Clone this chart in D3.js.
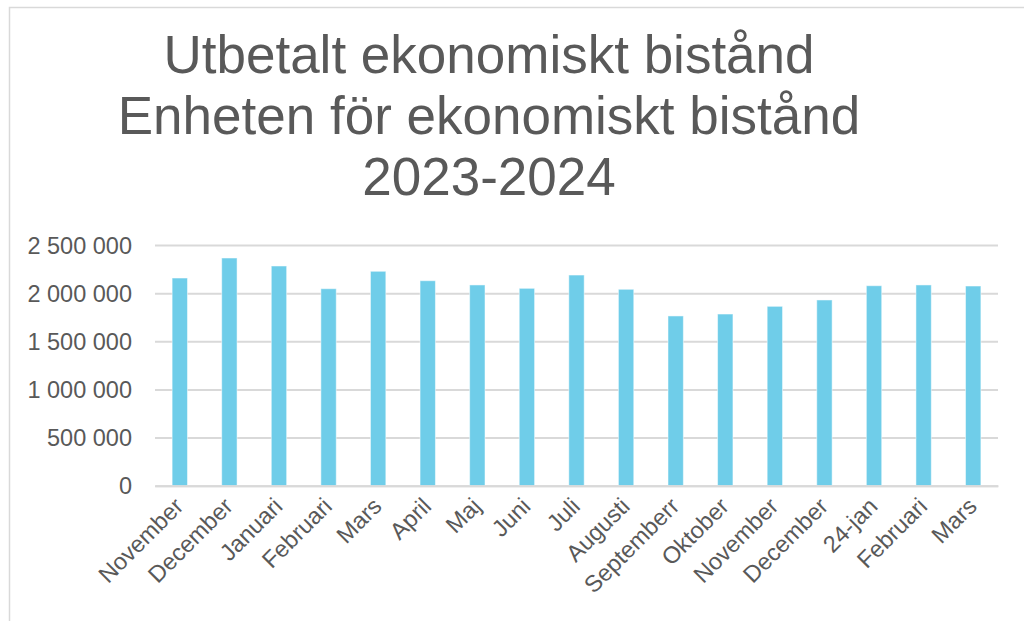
<!DOCTYPE html>
<html>
<head>
<meta charset="utf-8">
<script src="https://cdn.jsdelivr.net/npm/d3@7"></script>
<style>
  body { margin: 0; background: #fff; }
  svg { display: block; font-family: "Liberation Sans", Arial, sans-serif; }
</style>
</head>
<body>
<svg id="chart" width="1024" height="621"></svg>
<script>
"use strict"

// Data
var titleLines = ["Utbetalt ekonomiskt bistånd", "Enheten för ekonomiskt bistånd", "2023-2024"];
var months = ["November", "December", "Januari", "Februari", "Mars", "April", "Maj", "Juni", "Juli",
  "Augusti", "Septemberr", "Oktober", "November", "December", "24-jan", "Februari", "Mars"];
var amounts = [2157000, 2365000, 2282000, 2046000, 2227000, 2129000, 2085000, 2050000, 2188000,
  2040000, 1763000, 1783000, 1863000, 1929000, 2077000, 2085000, 2074000];
var yTicks = [0, 500000, 1000000, 1500000, 2000000, 2500000];

var textColor = "#595959";
var gridColor = "#d9d9d9";
var barColor = "#6fcde9";

var svg = d3.select("#chart");
var margin = { top: 245, right: 26, bottom: 135, left: 155 };
var width = 1024 - margin.left - margin.right;
var height = 621 - margin.top - margin.bottom - 0.3;

// outer chart frame
svg.append("rect")
  .attr("x", 9.5).attr("y", 7.5)
  .attr("width", 1030).attr("height", 630)
  .attr("fill", "none")
  .attr("stroke", "#d9d9d9")
  .attr("stroke-width", 1.5);

// title
var title = svg.append("text")
  .attr("text-anchor", "middle")
  .attr("fill", textColor)
  .style("font-size", "53px");
titleLines.forEach(function(line, i) {
  title.append("tspan")
    .attr("x", 489)
    .attr("y", 73 + i * 61)
    .text(line);
});

var g = svg.append("g").attr("transform", "translate(" + margin.left + "," + margin.top + ")");

var x = d3.scaleBand()
  .domain(d3.range(months.length))
  .range([0, width])
  .paddingInner(0.69)
  .paddingOuter(0.345);

var y = d3.scaleLinear()
  .domain([0, 2500000])
  .range([height, 0]);

var fmt = function(d) { return d3.format(",")(d).replace(/,/g, " "); };

// gridlines + y labels
var yAxis = d3.axisLeft(y)
  .tickValues(yTicks)
  .tickSize(-width)
  .tickPadding(23)
  .tickFormat(fmt);

g.append("g")
  .call(yAxis)
  .call(function(s) {
    s.select(".domain").remove();
    s.selectAll(".tick line").attr("stroke", gridColor).attr("stroke-width", 2);
    s.selectAll(".tick text")
      .attr("fill", textColor)
      .style("font-size", "23.5px")
      .style("font-family", "'Liberation Sans', Arial, sans-serif")
      .attr("dy", "0.35em");
  });

// bars
g.selectAll("rect.bar")
  .data(amounts)
  .enter().append("rect")
  .attr("class", "bar")
  .attr("x", function(d, i) { return x(i); })
  .attr("y", function(d) { return y(d); })
  .attr("width", x.bandwidth())
  .attr("height", function(d) { return height - y(d); })
  .attr("fill", barColor)
  .attr("stroke", "#ffffff")
  .attr("stroke-opacity", 0.5)
  .attr("stroke-width", 1);

// x axis
var xAxis = d3.axisBottom(x)
  .tickSize(0)
  .tickFormat(function(i) { return months[i]; });

g.append("g")
  .attr("transform", "translate(0," + height + ")")
  .call(xAxis)
  .call(function(s) {
    s.select(".domain").attr("stroke", gridColor).attr("stroke-width", 2);
    s.selectAll(".tick text")
      .attr("fill", textColor)
      .style("font-size", "23.5px")
      .style("font-family", "'Liberation Sans', Arial, sans-serif")
      .attr("text-anchor", "end")
      .attr("dy", 0)
      .attr("y", 0)
      .attr("transform", "translate(5,22) rotate(-45)");
  });
</script>
</body>
</html>
